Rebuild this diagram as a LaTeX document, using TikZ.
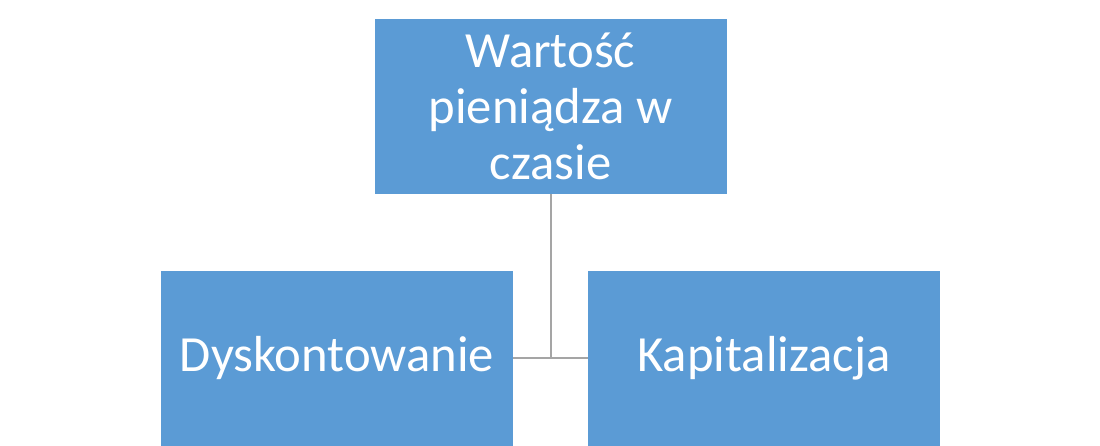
\documentclass[tikz,border=0pt]{standalone}
\usepackage{fontspec}
\setmainfont{Carlito}
\definecolor{boxblue}{HTML}{5B9BD5}
\definecolor{linegrey}{HTML}{A5A5A5}
\begin{document}
\begin{tikzpicture}[x=0.75pt,y=-0.75pt,
  boxstyle/.style={fill=boxblue,draw=none,inner sep=0pt,minimum width=352*0.75pt,minimum height=175*0.75pt,text=white,align=center,font=\fontsize{38}{42}\selectfont},
  connstyle/.style={draw=linegrey,line width=1.5pt}]
\useasboundingbox (0,0) rectangle (1100,446);
\fill[white] (0,0) rectangle (1100,446);
\node[boxstyle] (top) at (550.5,106.5) {Wartość\\pieniądza w\\czasie};
\node[boxstyle] (left) at (337,358) {Dyskontowanie};
\node[boxstyle] (right) at (764,358) {Kapitalizacja};
\coordinate (j) at (top.south |- left.east);
\draw[connstyle] (top.south) -- (j);
\draw[connstyle] (left.east) -- (right.west);
\end{tikzpicture}
\end{document}
